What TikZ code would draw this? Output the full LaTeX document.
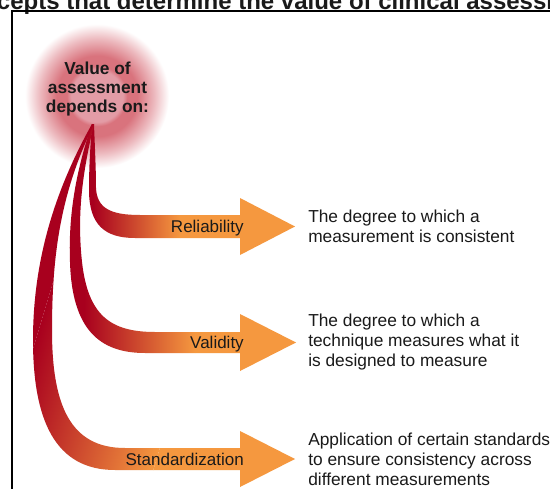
\documentclass[tikz,border=0pt]{standalone}
\usepackage{fontspec}
\setmainfont{Liberation Sans}
\usetikzlibrary{positioning}
\definecolor{strandred}{HTML}{A8001E}
\definecolor{arroworange}{HTML}{F5983F}
\definecolor{hubpink}{HTML}{E39CA6}
\definecolor{hubring}{HTML}{D9737D}
\definecolor{hubfade}{HTML}{EDBBC0}
\definecolor{inktext}{HTML}{1A1A1A}
% glow: the path's box is the 25bp circle
\pgfdeclareradialshading{hubglow}{\pgfpoint{0bp}{0bp}}{color(0bp)=(hubpink); color(9bp)=(hubpink); color(10.5bp)=(hubring); color(14bp)=(hubring); color(20bp)=(hubfade); color(25bp)=(white); color(50bp)=(white)}
% ribbon outlines (px units, y grows downwards)
\newcommand{\relribbon}{(94,124) .. controls (95,150) and (96,170) .. (96,188)
  .. controls (97,208) and (110,215) .. (140,215) -- (240,215) -- (240,198)
  -- (295,226.5) -- (240,255) -- (240,238) -- (135,238)
  .. controls (105,238) and (89,225) .. (89,190)
  .. controls (89,160) and (91,140) .. (92,124) -- cycle}
\newcommand{\valribbon}{(94,124) .. controls (82,175) and (77,215) .. (82,262)
  .. controls (88,315) and (110,332) .. (155,332) -- (240,332) -- (240,314)
  -- (296,342.5) -- (240,371) -- (240,353) -- (145,353)
  .. controls (100,353) and (72,330) .. (70,262)
  .. controls (68,210) and (78,165) .. (92,124) -- cycle}
\newcommand{\stdribbon}{(94,124) .. controls (62,190) and (52,250) .. (52,330)
  .. controls (52,405) and (70,448) .. (125,448) -- (240,448) -- (240,431)
  -- (295,459) -- (240,487) -- (240,470) -- (115,470)
  .. controls (55,470) and (33,420) .. (33,340)
  .. controls (33,260) and (55,190) .. (92,124) -- cycle}

\begin{document}
\begin{tikzpicture}[x=0.75pt, y=-0.75pt,
  hubtext/.style={font=\bfseries\fontsize{13}{14.25}\selectfont, align=center, inner sep=0pt, text=inktext},
  armlabel/.style={font=\fontsize{12.75}{15}\selectfont, anchor=base east, inner sep=0pt, text=inktext},
  note/.style={font=\fontsize{13}{15}\selectfont, align=left, anchor=west, inner sep=0pt, text=inktext}]
  \useasboundingbox (0,0) rectangle (550,489);
  \fill[white] (0,0) rectangle (550,489);

  % Heading, cut by the page
  \node[font=\bfseries\fontsize{18}{20}\selectfont, anchor=base west, inner sep=0pt, text=inktext]
    (heading) at (-50,9) {Concepts that determine the value of clinical assessment};
  % Frame
  \draw[line width=1.5pt] (12,600) -- (12,11) -- (700,11);

  % Glow behind the hub
  \coordinate (hubc) at (97,96);
  \shade[shading=hubglow] (hubc) circle (72);
  \node[hubtext] (hub) at (97.5,89.5) {Value of\\assessment\\depends on:};

  % Reliability ribbon
  \begin{scope}
    \clip \relribbon;
    \fill[strandred] (0,100) rectangle (93,500);
    \shade[left color=strandred, right color=arroworange] (93,100) rectangle (180,500);
    \fill[arroworange] (180,100) rectangle (320,500);
  \end{scope}
  % Validity ribbon
  \begin{scope}
    \clip \valribbon;
    \fill[strandred] (0,100) rectangle (84,500);
    \shade[left color=strandred, right color=arroworange] (84,100) rectangle (195,500);
    \fill[arroworange] (195,100) rectangle (320,500);
  \end{scope}
  % Standardization ribbon, gradient tilted along the bend
  \begin{scope}
    \clip \stdribbon;
    \begin{scope}[transform canvas={rotate around={-16.7:(0,459)}}]
      \fill[strandred] (-300,-300) rectangle (0,900);
      \shade[left color=strandred, right color=arroworange] (0,-300) rectangle (150,900);
      \fill[arroworange] (150,-300) rectangle (600,900);
    \end{scope}
  \end{scope}

  % Arm labels
  \node[armlabel] (reliability) at (244,232.5) {Reliability};
  \node[armlabel] (validity) at (244,348.5) {Validity};
  \node[armlabel] (standardization) at (244,465) {Standardization};

  % Notes beside the tips
  \coordinate (reltip) at (295,226.5);
  \coordinate (valtip) at (296,342.5);
  \coordinate (stdtip) at (295,459);
  \node[note, right=9.75pt of reltip] (relnote) {The degree to which a\\measurement is consistent};
  \node[note, right=9pt of valtip] (valnote) {The degree to which a\\technique measures what it\\is designed to measure};
  \node[note, right=9.75pt of stdtip] (stdnote) {Application of certain standards\\to ensure consistency across\\different measurements};
\end{tikzpicture}
\end{document}
